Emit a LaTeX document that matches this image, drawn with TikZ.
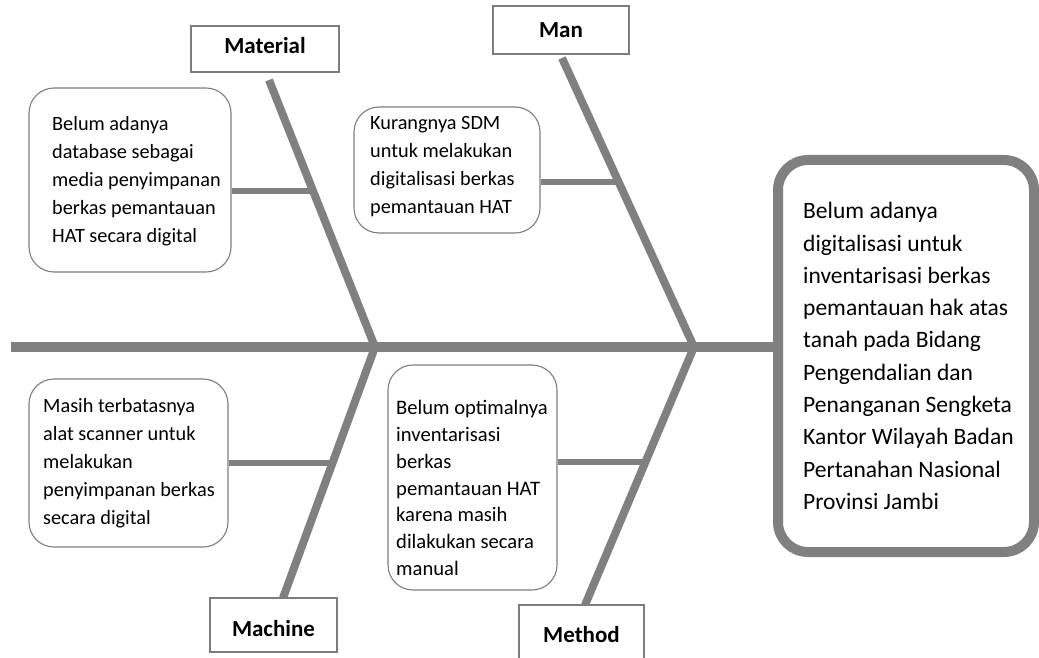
\documentclass[tikz,border=0pt]{standalone}
\usepackage{fontspec}
\setmainfont{Carlito}
\usetikzlibrary{calc}
\definecolor{bone}{RGB}{128,128,128}
\definecolor{edgec}{RGB}{125,125,125}
\begin{document}
\begin{tikzpicture}[x=1pt,y=-1pt,
  catbox/.style={draw=edgec, line width=1.3pt, fill=white, inner sep=0pt, font=\fontsize{23}{26}\selectfont\bfseries},
  causebox/.style={draw=edgec, line width=1.1pt, fill=white, rounded corners=25pt, inner sep=0pt},
  causetext/.style={anchor=west, align=left, inner sep=0pt, font=\fontsize{20.3}{28}\selectfont},
  mainbox/.style={draw=bone, line width=10pt, fill=white, rounded corners=30pt, inner sep=0pt},
  maintext/.style={anchor=west, align=left, inner sep=0pt, font=\fontsize{23.5}{32.3}\selectfont},
  bonel/.style={draw=bone, line width=8pt},
  subbone/.style={draw=bone, line width=6pt},
  spine/.style={draw=bone, line width=10pt}
]
\useasboundingbox (0,0) rectangle (1039,658);

% coordinates of the skeleton
\coordinate (tail) at (11,347);
\coordinate (J1) at (375,347);
\coordinate (J2) at (694,347);
\coordinate (matTop) at (269,80);
\coordinate (manTop) at (562,58);
\coordinate (macBot) at (283,598);
\coordinate (metBot) at (585,605);
\coordinate (s1) at (313,191);
\coordinate (s2) at (618,182);
\coordinate (s3) at (333,463);
\coordinate (s4) at (646,462);

% main effect box
\node[mainbox, minimum width=256pt, minimum height=392pt] (main) at (906,356) {};

% spine and bones
\draw[spine] (tail) -- (tail -| main.west);
\draw[bonel] (matTop) -- (J1);
\draw[bonel] (J1) -- (macBot);
\draw[bonel] (manTop) -- (J2);
\draw[bonel] (J2) -- (metBot);

% cause boxes
\node[causebox, minimum width=202pt, minimum height=184pt] (b1) at (130,180) {};
\node[causebox, minimum width=186pt, minimum height=126pt] (b2) at (447,170) {};
\node[causebox, minimum width=199pt, minimum height=168pt] (b3) at (128.5,463) {};
\node[causebox, minimum width=169pt, minimum height=225pt] (b4) at (472.5,477.5) {};

% sub-bones
\draw[subbone] (b1.east |- s1) -- (s1);
\draw[subbone] (b2.east |- s2) -- (s2);
\draw[subbone] (b3.east |- s3) -- (s3);
\draw[subbone] (b4.east |- s4) -- (s4);

% cause texts
\node[causetext] (t1) at (52,181) {Belum adanya\\database sebagai\\media penyimpanan\\berkas pemantauan\\HAT secara digital};
\node[causetext] (t2) at (370,167) {Kurangnya SDM\\untuk melakukan\\digitalisasi berkas\\pemantauan HAT};
\node[causetext] (t3) at (43,463) {Masih terbatasnya\\alat scanner untuk\\melakukan\\penyimpanan berkas\\secara digital};
\node[causetext, font=\fontsize{20.6}{26.7}\selectfont] (t4) at (396,488) {Belum optimalnya\\inventarisasi\\berkas\\pemantauan HAT\\karena masih\\dilakukan secara\\manual};

% main text
\node[maintext] (mt) at (803,356) {Belum adanya\\digitalisasi untuk\\inventarisasi berkas\\pemantauan hak atas\\tanah pada Bidang\\Pengendalian dan\\Penanganan Sengketa\\Kantor Wilayah Badan\\Pertanahan Nasional\\Provinsi Jambi};

% category labels
\node[catbox, minimum width=148pt, minimum height=46pt, text depth=8pt] (mat) at (265,49) {Material};
\node[catbox, minimum width=136pt, minimum height=48pt] (man) at (561,30) {Man};
\node[catbox, minimum width=127pt, minimum height=54pt, text height=23pt] (mac) at (273.5,625) {Machine};
\node[catbox, minimum width=125pt, minimum height=60pt] (met) at (581.5,635) {Method};
\end{tikzpicture}
\end{document}
